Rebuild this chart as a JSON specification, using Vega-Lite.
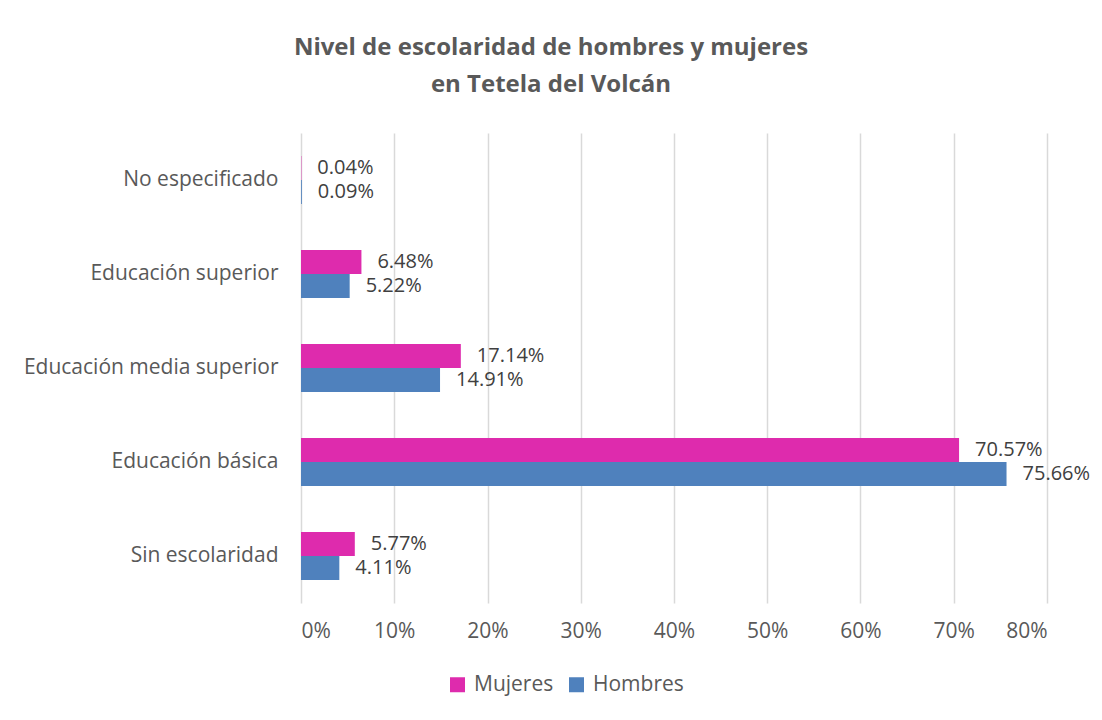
{
  "$schema": "https://vega.github.io/schema/vega-lite/v6.json",
  "autosize": {"type": "none"},
  "width": 746,
  "height": 470,
  "padding": {"left": 301, "top": 133, "right": 55, "bottom": 117},
  "background": "white",
  "title": {
    "text": ["Nivel de escolaridad de hombres y mujeres", "en Tetela del Volcán"],
    "font": "Open Sans",
    "fontSize": 24,
    "fontWeight": "bold",
    "color": "#595959",
    "lineHeight": 37,
    "anchor": "middle",
    "dx": -123,
    "offset": 36
  },
  "data": {
    "values": [
      {"nivel": "No especificado", "sexo": "Mujeres", "valor": 0.0004},
      {"nivel": "No especificado", "sexo": "Hombres", "valor": 0.0009},
      {"nivel": "Educación superior", "sexo": "Mujeres", "valor": 0.0648},
      {"nivel": "Educación superior", "sexo": "Hombres", "valor": 0.0522},
      {"nivel": "Educación media superior", "sexo": "Mujeres", "valor": 0.1714},
      {"nivel": "Educación media superior", "sexo": "Hombres", "valor": 0.1491},
      {"nivel": "Educación básica", "sexo": "Mujeres", "valor": 0.7057},
      {"nivel": "Educación básica", "sexo": "Hombres", "valor": 0.7566},
      {"nivel": "Sin escolaridad", "sexo": "Mujeres", "valor": 0.0577},
      {"nivel": "Sin escolaridad", "sexo": "Hombres", "valor": 0.0411}
    ]
  },
  "encoding": {
    "y": {
      "field": "nivel",
      "type": "nominal",
      "sort": ["No especificado", "Educación superior", "Educación media superior", "Educación básica", "Sin escolaridad"],
      "scale": {"paddingInner": 0.49, "paddingOuter": 0.245},
      "axis": {
        "title": null,
        "domain": false,
        "ticks": false,
        "labelPadding": 23,
        "labelFont": "Open Sans",
        "labelFontSize": 21,
        "labelColor": "#595959",
        "labelLimit": 400
      }
    },
    "yOffset": {
      "field": "sexo",
      "type": "nominal",
      "sort": ["Mujeres", "Hombres"]
    },
    "x": {
      "field": "valor",
      "type": "quantitative",
      "scale": {"domain": [0, 0.8], "nice": false},
      "axis": {
        "title": null,
        "format": ".0%",
        "values": [0, 0.1, 0.2, 0.3, 0.4, 0.5, 0.6, 0.7, 0.8],
        "domain": false,
        "ticks": false,
        "grid": true,
        "gridColor": "#D9D9D9",
        "gridWidth": 1.5,
        "labelPadding": 17,
        "labelFont": "Open Sans",
        "labelFontSize": 21,
        "labelColor": "#595959"
      }
    }
  },
  "layer": [
    {
      "mark": {"type": "bar"},
      "encoding": {
        "color": {
          "field": "sexo",
          "type": "nominal",
          "sort": ["Mujeres", "Hombres"],
          "scale": {"domain": ["Mujeres", "Hombres"], "range": ["#DE2BAD", "#4F81BD"]},
          "legend": {
            "title": null,
            "orient": "none",
            "direction": "horizontal",
            "legendX": 146,
            "legendY": 541,
            "symbolType": "square",
            "symbolSize": 225,
            "symbolStrokeWidth": 0,
            "labelFont": "Open Sans",
            "labelFontSize": 21,
            "labelColor": "#595959",
            "columnPadding": 12,
            "labelOffset": 6
          }
        }
      }
    },
    {
      "mark": {"type": "text", "align": "left", "baseline": "middle", "dx": 16, "font": "Open Sans", "fontSize": 20, "color": "#404040"},
      "encoding": {
        "text": {"field": "valor", "type": "quantitative", "format": ".2%"}
      }
    }
  ],
  "config": {
    "view": {"stroke": null}
  }
}
